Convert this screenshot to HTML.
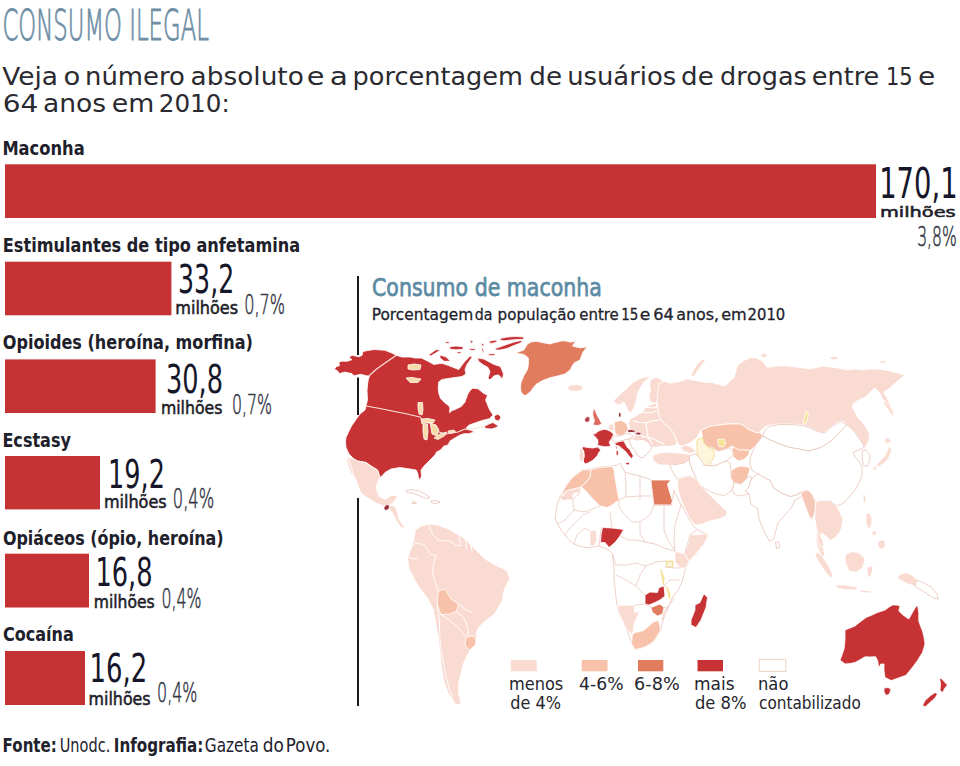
<!DOCTYPE html>
<html lang="pt">
<head>
<meta charset="utf-8">
<title>Consumo ilegal</title>
<style>
html,body{margin:0;padding:0;background:#fff;}
body{width:960px;height:766px;overflow:hidden;position:relative;}
svg{position:absolute;left:0;top:0;display:block;}
.t{font-family:"DejaVu Sans","Liberation Sans",sans-serif;}
.lbl{font-family:"DejaVu Sans","Liberation Sans",sans-serif;font-weight:bold;fill:#20202b;}
.num{font-family:"DejaVu Sans","Liberation Sans",sans-serif;fill:#16162a;font-weight:normal;}
.mil{font-family:"DejaVu Sans","Liberation Sans",sans-serif;fill:#1e1e2a;stroke:#1e1e2a;stroke-width:0.55;font-weight:normal;}
.pct{font-family:"DejaVu Sans","Liberation Sans",sans-serif;fill:#343846;stroke:#343846;stroke-width:0.6;font-weight:200;}
.bar{fill:#c53234;}
.w{fill:#fff;stroke:#eccac1;stroke-width:0.9;}
</style>
</head>
<body>
<svg width="960" height="766" viewBox="0 0 960 766">
<!-- MAP -->
<g id="map">
<g stroke-linejoin="round">
<g id="gna" stroke="#fff" stroke-width="0.8">
<polygon fill="#c73234" points="334.4,369.2 335.8,367 339.5,365.5 338.8,362.6 341,361.2 347.5,361.2 351.9,359.7 349,357.5 351.9,355.3 355.5,356.1 359.2,356.8 362.1,355.3 362.8,351.7 365,351 373.8,349.5 384.7,350.2 392,353.1 396.4,355.3 402,357 410,357 415,358 421.3,358 427.5,361 433.8,364.4 442,363.3 448.3,365.4 453.5,367.5 458.8,369.6 462,365 465,361.3 470.2,356 472.3,357 467,364.4 465,369.6 466,374 462,376.5 455,377.5 448,378.5 442,379.5 438.6,382 438.2,388 438.7,393 440.6,398.5 444.5,402.5 448.5,405.5 450,408 449.5,412.8 452,410.5 455,409.6 461.3,406.4 465,402 467.6,394.5 470,390.5 472.6,388.3 478,388.7 483.7,393.4 487.5,395.3 485.6,400 489.4,409.4 493,415 489.4,418.7 481.9,420.6 476.2,422.5 468.7,425.3 466,428 474.4,431.9 468.7,433.7 464,433.7 460,435 455.6,437.5 450,441 448,445 444,446 440.6,450 436.5,452 435,455 432,458 430,460 425,465 421,470 421.5,476 420,480 418.5,478 417.5,472.5 416,470 410,469 400,467.5 391,469 385,472.5 382,476 380,477.5 377.5,470 371,466 366,462.5 357.5,461 354,459 349,454 346,447.5 345.5,442 346,437.5 349,431 351.5,426 354,422.5 357,418 360,414 365,410 366,406 367.5,400 367,390 368,381 369.4,376 366.5,375.8 360.7,374.3 354.1,375.8 351.9,373.6 344.6,372.1 339.5,373.6 337.3,370.7"/>
<polygon fill="#c73234" points="484,426.5 490,423.5 493,422.5 498.7,426.2 495,428 491.2,429 486,428.5"/>
<polygon fill="#c73234" points="494,416 498,414 501,417 499,421 495,420"/>
<polygon fill="#c73234" points="477.5,358 483.8,359 488,361.3 494,364.4 500.4,366.5 503.5,373.8 502.5,379 498.3,374.8 494,375.8 490,380 488,378 490,371.7 488,367.5 482.7,364.4 478.5,361.3"/>
<polygon fill="#c73234" points="428.5,355 435.8,349.8 441,349.8 435.8,353 430.6,356"/>
<polygon fill="#c73234" points="440,355 446.3,357 450.4,361.3 444.2,361.3 440,358"/>
<polygon fill="#c73234" points="449.4,346.7 456,346 463,346.7 463,349.3 456,349.8 450.4,349.3"/>
<polygon fill="#c73234" points="445.2,341.5 449.4,342 449.4,343.5 445.5,343.3"/>
<polygon fill="#c73234" points="469,348.2 475.4,348.8 475,350.5 469.5,350"/>
<polygon fill="#c73234" points="481.7,348.3 483.3,348.5 484,353 482.5,352.5"/>
<polygon fill="#c73234" points="488,353.8 494,354.3 494,355.8 488,355.3"/>
<polygon fill="#c73234" points="457,352 461,351.5 461,353.5 457,353.6"/>
<polygon fill="#c73234" points="500,338.5 506,337.2 512,336.6 518,336.6 524,337 523.5,339.3 517,339.6 511,340 505,340.8 500.5,340.6"/>
<polygon fill="#c73234" points="523,340 520.5,343 514,345.5 507,348.5 500,350 495.5,350 495,348.6 501,346.5 508,344 515,341.8"/>
<polygon fill="#c73234" points="489,341.3 495,340 498,341.3 493,343.3 489.5,343.2"/>
<polygon fill="#c73234" points="470,340.8 473,340.5 472.5,343 470.3,343"/>
<polygon fill="#c73234" points="481.5,343.5 484,343.8 483.5,346 481.5,345.6"/>
<polygon fill="#c73234" points="488.5,354 495,353.5 494.5,355.5 489,355.8"/>
<polygon fill="#fff" points="476,423.5 482,421.5 489,419.5 487,423 482,424.5 478,426"/>
<polygon fill="#f7dba8" points="408,365 414,364 421,365 420,369.5 413,370 408,369"/>
<polygon fill="#f7dba8" points="406,378 412,377.5 421,379 418,382.5 410,382.5"/>
<polygon fill="#f7dba8" points="418,402.5 422.5,402.5 423,410 422,415 419,414 418,408"/>
<polygon fill="#f7dba8" points="421,419 428,418.5 435,420 433,423 426,423 422,424"/>
<polygon fill="#f7dba8" points="423,424.5 427.5,424 428,432 427,440 424,439 423,432"/>
<polygon fill="#f7dba8" points="430,423 436,425 439,430 437,436 432,434 431,428"/>
<polygon fill="#f7dba8" points="434,438 441,433.5 447,432 445,435.5 438,439.5"/>
<polygon fill="#f7dba8" points="448,431 454,430 455.5,432 449,433.5"/>
<polygon fill="#e17c5f" points="515.3,353 519.5,351.5 523.7,350.2 527.5,344 531,342 536,341.2 540,342 544.4,343 550,344 553,343 556.5,342.2 561,341 565,340.8 570.6,342.2 576.2,340.8 574,343.5 572.5,346 576,347 580,347.8 587.5,346.9 585,349.5 582.8,352.5 581.5,356 580,360 574.4,362.8 572,366 570.6,369.4 565,374 557.5,376 550,377.8 542.5,380.6 536,384.4 533,388 531.2,391 525.6,395.6 523,394.5 521,391.9 520.5,387 521,382.5 523.7,376 527.5,369.4 528.5,364 528.4,358 526,356 523.7,354.4"/>
<polygon fill="#fadbd2" points="567,387 571,385 577,384.5 583,386 582,390 576,391.5 570,391"/>
<polygon fill="#fadbd2" points="347,456.5 351,458 354,459 357.5,461 366,462.5 371,466 377.5,470 380,477.5 379,479 377,484 376,487.5 377.5,492 379,496 385,499.5 389,497 391,495.5 397.5,495.5 396,499 393.5,502.5 390.5,504.5 389,507 385,507 381,505 376,503 371,500 366,497 362,494 360,491 358,486 356,480 353,474 351,467 349,462"/>
<polygon fill="#fadbd2" points="346,458 348,459 351,466 353,474 352.5,477 350.5,472 348,465"/>
<polygon fill="#fadbd2" points="389,507 392,505 395,507 397.5,512 398,516 400,521 403,525 405,527.5 402,528 399,525 396,520 393,514 390,510"/>
<polygon fill="#9c2a35" points="384,507 387,504.5 389.5,505.5 389,509 386,510.5 384,509.5"/>
<polygon class="w" points="406,491 412,489.5 419,491 425,494 430,497.5 426,498.5 420,496 413,493 407,492.5"/>
<polygon class="w" points="431,501 436,500.5 440,502 436,503.5 432,503"/>
<polygon class="w" points="412,502 416,502 416,503.5 412,503.5"/>
</g>
<g id="gsa" stroke="#fff" stroke-width="0.8">
<polygon fill="#fadbd2" points="415.3,530.3 420.4,526.5 428,524 438.2,525.2 451,530.3 457,534 463.7,538 469,543 473.9,548.1 479,553 484,558.3 490,562 496.8,566 502,568 507,571 509.6,578.7 507,584 504.5,588.9 503,595 502,601.6 498,608 494.3,614.4 489,618 484,622 479,627 476.4,632.2 476.4,642.4 472,648 468.8,652.6 466,658 463.7,662.8 461.1,673 458.6,683.2 458.6,693.3 461.1,703.5 456,704.8 452,699 448.4,693.3 445,685 443.3,678 441.5,668 440.8,660.2 439.5,648 438.2,637.3 436.5,628 435.7,622 433.1,609.3 428,599 420.4,588.9 414,578.7 408.9,568.5 407.6,558.3 410.2,550.7 412,545 414,540.5 414.5,535"/>
<polygon fill="#f8c2aa" points="438.2,591.4 444.6,588.9 448,594 451,599 458.6,604.2 456,611.8 448.4,614.4 440.8,614.4 437,604.2"/>
<polygon fill="#f8c2aa" points="466.2,637.3 470,636.5 473.9,636 476,640 475.2,645 470,650 465,646.2 465.5,641"/>
</g>
<g id="geu" stroke="#fff" stroke-width="0.8">
<polygon fill="#fadbd2" points="613.5,401 616,398 620,394.5 625,390 629,386 633,382.5 638,379.5 643,377.5 648,376.8 650,377.3 647,379.5 644,382 641.5,386 639,390 637,395 636.5,400 635,405 633.5,409 631,412.5 628,411 626,406 624,402 621,404 617,404.5"/>
<polygon fill="#fadbd2" points="651,379 656,377.5 661,379 664,383 661.5,389 660,395 659,401 654,403.5 650,401.5 649,396 650.5,390 649.5,384"/>
<polygon fill="#fadbd2" points="630,419 636,416 642,412 646,407 651,404.5 656,403 658,410 660,419 665,424 670,428 674,434 677,441 676,445 670,446.5 664,446 658,447 651,447 646,445 641,442 638,438 633,433 629.5,428 628.5,423"/>
<polygon fill="#dc6a60" points="593.9,408 595.5,411 596.8,414.6 599.7,419.7 601.9,424 599,425.2 596.8,425.5 592.8,424.8 594.6,420.4 593.2,417 592.8,414.6 593,411"/>
<polygon fill="#b8404a" points="585,418 588,416.3 590,418 589.5,421.5 586.5,422.5 584.5,420.5"/>
<polygon fill="#c73234" points="596,433.6 596.8,432 600,430.5 604,429.2 607.5,430 610.7,431.4 613.6,434.3 611.4,438.7 609.2,442.3 610.7,446 607,446.8 604,446.7 600.5,446 597.5,445.3 598,442 597.5,439.4 595,436.5 592.5,434"/>
<polygon fill="#c73234" points="582.5,446.5 587.5,447.5 593,448 597.5,447 600.8,450 598.5,453 597.5,455.5 595,458 592.5,460.5 588,463 585,464 583.2,461 584.2,456 583.8,451 582,448.8"/>
<polygon fill="#fadbd2" points="579.5,448.5 582.4,448.8 583.6,452 584,457 583,461 580,461.3 579,456 579.6,451.5"/>
<polygon fill="#c73234" points="614.3,443.8 618.7,441.6 623.8,440.9 625.3,443.8 627,447 630,450 633.4,456 631.5,458.7 629,456 626,452 622,448.5 619.4,446.2 616.5,445.5"/>
<polygon fill="#c73234" points="625.5,462.5 630,462.3 628.8,465 626,464.6"/>
<polygon fill="#c73234" points="616,450.8 618.2,450.5 618.5,455 616.3,455.5"/>
<polygon fill="#c73234" points="615.6,446.2 617,446.2 617,449 615.6,449"/>
<polygon fill="#f8c2aa" points="614.3,421.9 620.9,420.4 626.7,423.4 628.2,429.2 625.3,433.6 620.9,435.8 615.8,434.3 614.3,429.2"/>
<polygon fill="#fadbd2" points="608.5,425 613.5,423.5 614.2,429 612.5,431.5 608.5,429"/>
<polygon fill="#9c2a35" points="618.5,412.5 621,413 621,417 618.5,417"/>
<polygon fill="#9c2a35" points="627.4,430 631,429.5 635.5,430.5 635,432.3 630,432.5 627.5,432"/>
<polygon fill="#9c2a35" points="635.5,432.6 639,432 641.5,433.5 640,435 636,435"/>
<polygon fill="#fadbd2" points="633,435.5 638,435.2 643.5,436 643,439.4 637,440 633.5,438.5"/>
<polygon class="w" points="629,439 633,438.5 637,440 643,439.4 648,442 652,447 650,451 646,455 642,458 638,456 635,451 631,446"/>
<polygon class="w" points="611.4,438.7 615,436 620.9,435.8 625.3,433.6 630,434 633,436 629,439 624,440 618.7,441.6 614.3,442.5"/>
</g>
<g id="gaf" stroke="#fff" stroke-width="0.8">
<polygon class="w" points="572.5,477.5 577,474 582.5,470 591,469 600,467 612.5,466 617,465 620,463 621.5,466 625,472 631,474 640,476 646,478 651,480 653,498 654,505 671,505 672.5,501 674,490 676,495 681,505 687,515 691,523 697,529.5 703,533 708,534 706,540 703.5,544 698,551 694,556 689,561 686,568 684,574 682,582 678,590 672,598 668,608 664,617 660.6,630 656,638 653,642 645.6,646.5 640,648.5 635.3,649.4 631.5,643.7 630,638 627,630 623,621 618.4,612 617,605 616,597 615,588 614,578 614,568 613,560 612.5,554 609,550 604,548 599,546 593,547 586,547.5 579,546 574,544 569,540 565,535 561,530 557.5,524 555,519 556,512 557,505 560,497 564,490 568,483"/>
<polygon fill="#f8c2aa" points="572.5,477.5 577,474 582.5,470 586,470 591,470 590,477.5 585,483 580,487.5 574,489 569,490 565,492 562.5,496 562.5,492 566,486"/>
<polygon fill="#fadbd2" points="562.5,496 565,492 569,490 574,489 580,487.5 579,492 573,494 572.5,499 563,500.5 560,499"/>
<polygon fill="#f8c2aa" points="591,469.5 600,467.5 612.5,466.5 614,470 615,477.5 617,489 619,500 612,505 607.5,507.5 600,506 592,498 585,490 581,487 585,483.5 590,477.5"/>
<polygon fill="#c73234" points="602.5,527.5 612,528 623.8,529.4 620,536 615,542.5 609,547.5 605,542.5 600.6,542.5 601,535"/>
<polygon fill="#c73234" points="645,595 650,592 657.5,592.5 659,587.5 664,586 665,596 660,600 655,602.5 649,605 645,604"/>
<polygon fill="#e17c5f" points="651,607.5 656,605.5 660,604 664,607.5 662.5,614 657.5,616 652.5,612.5"/>
<polygon fill="#fadbd2" points="617.5,605.3 634.4,605.3 634.4,612.5 639.5,611.5 634.4,623 632.5,634.4 627.8,630.6 623,621.2 618.4,612"/>
<polygon fill="#f8c2aa" points="635.3,632.5 643.7,630.6 653,622.2 658.7,620.3 660.6,630 656,638 653,642 645.6,646.5 640,648.5 635.3,649.4 631.5,643.7 632.5,634.4"/>
<polygon fill="#c73234" points="703.8,593.8 707.5,597.5 706,607.5 701,620 696,627.5 691,625 691,620 695,610 695,605 700,602.5"/>
<polygon fill="#fadbd2" points="690.5,535 697,534.5 708,534 706,540 703.5,544 698,551 694,556 689,561 684.6,554 688,545"/>
<polygon fill="#fadbd2" points="675,551 684.6,554 689,561 686,568 680,568 675,562"/>
<polygon fill="#fadbd2" points="590,531 596,530 597,540 594,546 590,546"/>
<polygon fill="#fbf3d6" stroke="#efd680" stroke-width="1" points="666.5,561.5 672.5,561 673,566.5 669,567.5 666.5,566"/>
<polygon fill="#f5e497" points="659.5,569 661.5,569 665,578 664.5,585 662.5,585 661,576"/>
<polygon fill="#f5e497" points="665.5,586 667.5,586 671,594 670.5,599 668.5,599 667,593"/>
</g>
<g id="gas" stroke="#fff" stroke-width="0.8">
<polygon fill="#fadbd2" points="659,384 665,381 669,383 675,382.5 681,381 687.5,379 694,380.5 700,381.5 706,382.5 712.5,382.5 719,384.5 725,386 730,381 734,377.5 736,371 737,366 743,361 750,357.5 756,358 762.5,361 767.5,367.5 775,366 787.5,366 800,367.5 810,369 822.5,366 835,367.5 847.5,370 855,369 862.5,370 870,369 878,369 885,370 890,371 895,372.5 900,373.5 905,375 902,377.5 897.5,381 894,384 891,387.5 888,389.5 885,391 884,394 887,398 890,404 893,410 895,415 892,413.5 889,409 885,403 882,398 880,393 875,388 871,391 869,393.5 865,397.5 861,399 857.5,400.5 853,404 852.5,407.5 855,412 857.5,417.5 862,422 866,427 869,433 869.5,438 867.5,444 864.5,447 862,443 860,440 857.5,436 855,432.5 851,428 847.5,425 844,422 840,421 836,423 832.5,425.5 828,429 824,432.5 819,431.5 815,430 809,427 802.5,425 796,424.3 790,424 780,424 770,425 765,426.5 762.5,429 760,432 757.5,433 753,431.5 750,430 747.5,429 744,425.5 740,424 733,424 727.5,424 720,425 711,426 705,428.5 701,430 699,434 697,437 694,440 690,443 686,444.5 681,446 678,444 677,441 674,434 670,428 665,424 660,419 658,410 657,401 657.5,395 658,389"/>
<polygon fill="#fadbd2" points="691,376 694,369 698,363 703,359 706,359.5 701,366 697,372 693.5,377"/>
<polygon fill="#fadbd2" points="760,355 765,353 768.5,356 763,358"/>
<polygon fill="#fadbd2" points="829,357.5 836,356 838.5,359 832,360"/>
<polygon fill="#fadbd2" points="880,361 885,360.5 886,363 880.5,363.5"/>
<polygon fill="#fadbd2" points="883,400 886,401.5 890,407 894,414 893,416.5 888.5,410.5 884.5,404.5"/>
<polygon fill="#fadbd2" points="884,439.5 888,437.5 891.5,441 889,443.5 885.5,443"/>
<polygon fill="#fadbd2" points="889,446 891.5,449 890.5,454 888,459 884,463 879,466.5 876,466 878,463 882,459 885.5,455 887.5,450"/>
<polygon fill="#fadbd2" points="873.5,466 876.5,466.5 876,470.5 873,469.5"/>
<polygon fill="#f8c2aa" points="701,430 705,428.5 711,426 720,425 727.5,424 733,424 740,424 744,425.5 747.5,429 750,430 753,431.5 757.5,433 760,432 762.5,436 759,441 755,446 750,450.5 745,450 739,450 735,448 732.5,446 729,447.5 726,449 721,450.5 717.5,451 712.5,447.5 708,446.5 705,446 703,442 702.5,437.5"/>
<polygon class="w" points="703,442 705,446 708,446.5 712.5,447.5 717.5,451 721,450.5 726,449 729,447.5 732,451 733,455 730,458 726,461 722,462.5 717,465 712,466 706,465"/>
<polygon fill="#fdf5dc" stroke="#f2dc8c" stroke-width="0.9" points="697,440 702.5,437.5 704,443 708,447 713,449 714.5,455 712,461 708,466 702,465.5 699,460 697,452"/>
<polygon fill="#f5e497" points="717.5,439.5 724,439 725.8,443 723.5,447 719,446.5"/>
<polygon fill="#f8c2aa" points="732.5,446 735,448 739,450 745,450 750,450.5 748.5,455 744,459.5 738,461 733.5,457 732,451"/>
<polygon fill="#f8c2aa" points="731,471 736,467.5 741,466 750,467.5 749,472 747.5,477.5 744,481 741,484 734,482.5 731,477.5"/>
<polygon fill="#fadbd2" points="652.5,455.5 660,452.8 670,452.3 681,453.2 690,454.5 693,458.5 690,463.5 681,465.5 669,465.3 659,464.8 653.5,461"/>
<polygon fill="#fadbd2" points="681,446.5 686,445 692,447.5 696,451.5 690,453.5 683,451"/>
<polygon class="w" points="689.5,455.5 696,454 700,459 704,465 712,466 717,465 722,462.5 726,461 730,463 731,471 731,477.5 734,482.5 733,488 730,492 724,495.5 716,494 708,490.5 701,486 696.5,479 692,470 689.5,463"/>
<polygon class="w" points="734,482.5 741,484 745,480 750,476 752,478 750,482 749,487 745,491 748.8,493.6 741,496 735,494.5 732,490 733,488"/>
<polygon class="w" points="670,464 676,464.5 684,463 689,459.5 692,470 696.5,479 690,476 684,477 677.5,479 674,474 671,469"/>
<polygon fill="#fadbd2" points="677.5,479.5 684,477 690,476 696.5,479 701,486 706,491 712,497 717,502 722,507 727,511 726,516 719,519 710,521 702,524 696,525 692,522 689,517 685,509 681,500 678,490"/>
<polygon fill="#e17c5f" points="651,480 658,480 665,480 671,480 667.5,484 669,490 672.5,501 671,505 662,505 654,505 653,498 652.5,492.5 651.5,486"/>
<polygon class="w" points="762.5,436 765,430 770,426 780,424.5 790,424.5 802.5,425.5 809,427.5 815,430.5 824,433 832.5,426 840,421.5 847,425 843,429 838,434 831,441 821,447.5 809,451 799,449 790,447.5 780,444 770,440"/>
<polygon class="w" points="755,446 759,441 762.5,436 770,440 780,444 790,447.5 799,449 809,451 821,447.5 831,441 838,434 843,429 847,425 851,428 855,432.5 858,437 861,441 864.5,447 859,450 853,452 855,457 859,461 862,467 862,475 859,483 855,490 850,496 845,502 840,505 836,505 830,500.5 822,500.5 815.7,502 812,494 808,490 802,491.5 796,495 790.6,496.7 782.2,493.6 773.9,488.4 769.7,480 765,478 758,474 752,470 750,465 750,458"/>
<polygon class="w" points="862.5,450.5 866,450 870,455 869.5,461 867,466.5 863.5,465 862,458"/>
<polygon class="w" points="752,478 758,474 765,478 769.7,480 773.9,488.4 782.2,493.6 790.6,496.7 796,495 801,492.5 802,496 797,499 794.8,500 792.7,506 785.4,514.5 778,522.8 776,530 773.9,538.5 769.7,541.6 764.5,532.2 759.3,519.7 757.2,508.2 750.9,504 748.8,493.6 745,491 749,487 750,482"/>
<polygon class="w" points="775.5,542 778.5,542 780,547 776.5,548.5"/>
<polygon fill="#f6c8b8" points="802,491.5 808,490 812,494 815.7,502 815,512 812,519.7 809,516 806,508 803,500 801,495"/>
<polygon fill="#fadbd2" points="815.7,502 822,500.5 830,500.5 836,505 840,512 843,520 841,530 836,537 830,540.5 826,536 822,533 820,540 823,548 825,555 822,557 818,548 816,540 817,530 815,520 815,512"/>
<polygon fill="#f5e497" points="806,411.5 808.3,412.5 807.8,418 805.5,424 803,423.5 804.3,418"/>
<polygon fill="#fadbd2" points="816.5,530 819.5,534 823,541 824,546 820.5,547 817.5,539"/>
<polygon fill="#fadbd2" points="815,553 818,552.5 822,556 828,565 833,575 831,578.5 826,573 820,564 816,557"/>
<polygon fill="#fadbd2" points="845,555 852,551.5 860,553.5 865,559 863,567 856,572.5 849,571 845.5,563"/>
<polygon fill="#fadbd2" points="867,567.5 873,565.5 872.5,571 870,578 867.5,575"/>
<polygon fill="#fadbd2" points="836,585 845,585 857,587 856.5,590 845,589.5 836.5,588"/>
<polygon fill="#fadbd2" points="860,590 868,590.5 874,592 868,593 860,592"/>
<polygon fill="#fadbd2" points="899,575 906,572.5 912,575 917,580 915,586 908,584 902,581 897.5,578"/>
<polygon class="w" points="917,580 924,583 931,587 937,594 938,599 933,598 926,593 919,589 915,586"/>
<polygon fill="#fadbd2" points="866,514 870,513 872,519 871,527 868,529 866,522"/>
<polygon fill="#fadbd2" points="872,531 876,531 876.5,535 872.5,535.5"/>
<polygon fill="#fadbd2" points="878,541 884,540 886,545 882,549.5 878,547"/>
<polygon fill="#fadbd2" points="863,495 865.5,495 866,502 863.5,503"/>
</g>
<g id="goc" stroke="#fff" stroke-width="0.8">
<polygon fill="#c73234" points="845,630 850,628 855,626 860,622 866,617.5 872,615 877.5,612.5 885,610 889,607 892.5,605 896,605 900,605.6 898.8,611 903,615 908.8,619 910.5,616 912.5,612.5 915,608 917.5,605 918.8,613 918.8,621 920.5,626 922.5,631 924,637 925,644 922.5,652.5 917.3,660.8 912,668 905.8,675.4 899.6,677.5 891.3,680.6 885,677.5 884,671 884,664 880.8,664 878.8,668 877.7,660.8 875.6,656.7 870,657 865.2,656.7 860,659.8 855,662.5 850,663.5 845,664 840,660 842,655 844,649 845,640"/>
<polygon fill="#c73234" points="884,688 888,687.5 891,689 889.5,694 886,695.5 884,692"/>
<polygon fill="#c73234" points="939.5,678 942,679 945,682.5 947.5,685 945,688 942.5,692.5 940,690.5 940.5,684"/>
<polygon fill="#c73234" points="935,692.5 937.5,694 935,698 930.5,702 925.5,706.7 922.5,705.5 925,700.5 930,696"/>
</g>
<g fill="none" stroke="#fbe3dc" stroke-width="1.2" stroke-linejoin="round" stroke-linecap="round">
<polyline points="396.4,355.3 385,363 376,369.5 369.4,375.5"/>
<polyline points="366,406 380,408.5 392,411 405,413.5 420,417 423,421"/>
<polyline points="439,432 445,434 450,433.5 458,432 465,429 470,430 476,428 484,427"/>
</g>
<g fill="none" stroke="#fff" stroke-width="0.9" stroke-linejoin="round" stroke-linecap="round">
<polyline points="428,524.5 431,530 433,535 438,540"/>
<polyline points="438,540 444,541 450,541 456,545 460,546"/>
<polyline points="459,537 461,546"/>
<polyline points="465.5,540.5 466.5,549"/>
<polyline points="471,545 472,551"/>
<polyline points="410,550 415,543 421,544 425,546 430,554 436,556"/>
<polyline points="408,557 413,559 418,558"/>
<polyline points="436,556 433,566 433,575 436,585 438.2,591.4"/>
<polyline points="437,604.2 438.5,614 439.5,625 440,640 442,655 445,672 449,688 453,698"/>
<polyline points="440.8,614.4 446,618 452,622 459,628 465,636"/>
<polyline points="456,611.8 462,616 466,622 468,630 468,636"/>
<polyline points="458.6,604.2 466,610 472,612"/>
</g>
<g fill="none" stroke="#fff" stroke-width="1.1" stroke-linejoin="round" stroke-linecap="round">
<polyline points="641,412 647,413 652,412.5 657,411"/>
<polyline points="633,421 640,422.5 646,423 652,421 659,420"/>
<polyline points="646,423 647,430 648,437 652,444"/>
<polyline points="642.5,436.5 648,437 656,440 664,444"/>
<polyline points="646,407 652,408 657,407"/>
</g>
<g fill="none" stroke="#eccbc3" stroke-width="0.85" stroke-linejoin="round" stroke-linecap="round">
<polyline points="560,497 573,499 579,494 580,488"/>
<polyline points="572.5,499 574,510 584,512 590,510 600,506"/>
<polyline points="619,500 625,497 640,496 651,496"/>
<polyline points="625,472 626,485 626,497"/>
<polyline points="640,476 640,490 640,500"/>
<polyline points="654,505 650,515 640,522 632,522 626,516 619,507 619,500"/>
<polyline points="654,505 665,505 672,505"/>
<polyline points="620,536 628,540 636,540 645,542 655,544 664,548 674,551"/>
<polyline points="640,522 640,534 645,542"/>
<polyline points="664,505 664,530 668,540 675,551"/>
<polyline points="612.5,554 616,565 626,565 636,563 646,566 656,562 666,561"/>
<polyline points="616,575 626,580 636,586 645,595"/>
<polyline points="636,586 640,575 646,566"/>
<polyline points="665,567 675,568 680,568"/>
<polyline points="664,586 670,580 679,580"/>
<polyline points="634.4,605.3 645,604 651,607.5"/>
<polyline points="664,607.5 668,608"/>
<polyline points="674,598 670,604 665,610 662,620"/>
<polyline points="574,544 577,535 585,528 590,531"/>
<polyline points="565,535 570,528 576,522 583,515 590,512"/>
<polyline points="557.5,524 565,520 574,510"/>
<polyline points="599,546 600,537 601,530 602.5,527.5"/>
<polyline points="610,512 611,520 612,528"/>
<polyline points="697,529.5 690,535 684.6,554"/>
<polyline points="681,505 678,515 675,525 674,540 675,551"/>
</g>
</g>
<rect x="510.8" y="660" width="25.9" height="11.3" fill="#fadbd2"/>
<rect x="581.7" y="660" width="25.8" height="11.3" fill="#f8c2aa"/>
<rect x="638" y="660" width="25.3" height="11.3" fill="#e17c5f"/>
<rect x="697.5" y="660" width="25.5" height="11.3" fill="#c73234"/>
<rect x="759.3" y="659.3" width="26.5" height="12.2" fill="#fff" stroke="#f0d2c8" stroke-width="1"/>
</g><!--/map-->

<!-- vertical rule -->
<g fill="#1a1a1a">
<rect x="357" y="276" width="2" height="79"/>
<rect x="357" y="377.5" width="2" height="37.5"/>
<rect x="357" y="498" width="2" height="208"/>
</g>

<!-- HEADINGS -->
<text id="title" class="t" x="2.40" y="39.50" font-size="42.00" font-weight="200" fill="#6e8ea5" stroke="#6e8ea5" stroke-width="0.9" textLength="206.50" lengthAdjust="spacingAndGlyphs">CONSUMO ILEGAL</text>
<text id="sub1" class="t" y="84.6" font-size="24.8" fill="#2a2a30"><tspan id="sub1w0" x="2.20" textLength="55.80" lengthAdjust="spacingAndGlyphs">Veja</tspan> <tspan id="sub1w1" x="63.40" textLength="16.80" lengthAdjust="spacingAndGlyphs">o</tspan> <tspan id="sub1w2" x="85.00" textLength="99.80" lengthAdjust="spacingAndGlyphs">número</tspan> <tspan id="sub1w3" x="190.60" textLength="113.20" lengthAdjust="spacingAndGlyphs">absoluto</tspan> <tspan id="sub1w4" x="306.80" textLength="17.70" lengthAdjust="spacingAndGlyphs">e</tspan> <tspan id="sub1w5" x="329.80" textLength="18.20" lengthAdjust="spacingAndGlyphs">a</tspan> <tspan id="sub1w6" x="352.60" textLength="170.40" lengthAdjust="spacingAndGlyphs">porcentagem</tspan> <tspan id="sub1w7" x="529.25" textLength="32.75" lengthAdjust="spacingAndGlyphs">de</tspan> <tspan id="sub1w8" x="567.20" textLength="109.00" lengthAdjust="spacingAndGlyphs">usuários</tspan> <tspan id="sub1w9" x="681.10" textLength="32.60" lengthAdjust="spacingAndGlyphs">de</tspan> <tspan id="sub1w10" x="720.05" textLength="86.75" lengthAdjust="spacingAndGlyphs">drogas</tspan> <tspan id="sub1w11" x="811.75" textLength="67.55" lengthAdjust="spacingAndGlyphs">entre</tspan> <tspan id="sub1w12" x="885.95" textLength="26.65" lengthAdjust="spacingAndGlyphs">15</tspan> <tspan id="sub1w13" x="918.00" textLength="17.30" lengthAdjust="spacingAndGlyphs">e</tspan></text>
<text id="sub2" class="t" y="112.3" font-size="24.8" fill="#2a2a30"><tspan id="sub2w0" x="2.75" textLength="35.50" lengthAdjust="spacingAndGlyphs">64</tspan> <tspan id="sub2w1" x="43.00" textLength="63.20" lengthAdjust="spacingAndGlyphs">anos</tspan> <tspan id="sub2w2" x="111.75" textLength="42.50" lengthAdjust="spacingAndGlyphs">em</tspan> <tspan id="sub2w3" x="158.80" textLength="70.90" lengthAdjust="spacingAndGlyphs">2010:</tspan></text>

<!-- BARS -->
<text id="l1" class="lbl" x="2.40" y="154.60" font-size="19.40" textLength="82.30" lengthAdjust="spacingAndGlyphs">Maconha</text>
<rect class="bar" x="5" y="164.3" width="871" height="53.7"/>
<text id="n1" class="num" x="879.20" y="197.60" font-size="42.60" textLength="78.40" lengthAdjust="spacingAndGlyphs">170,1</text>
<text id="m1" class="mil" x="880.00" y="217.00" font-size="14.00" textLength="75.70" lengthAdjust="spacingAndGlyphs">milhões</text>
<text id="p1" class="pct" x="917.20" y="245.80" font-size="27.40" textLength="39.50" lengthAdjust="spacingAndGlyphs">3,8%</text>

<text id="l2" class="lbl" x="2.80" y="252.00" font-size="19.40" textLength="297.35" lengthAdjust="spacingAndGlyphs">Estimulantes de tipo anfetamina</text>
<rect class="bar" x="5" y="261.7" width="166.4" height="53.6"/>
<text id="n2" class="num" x="178.10" y="293.00" font-size="39.40" textLength="56.10" lengthAdjust="spacingAndGlyphs">33,2</text>
<text id="m2" class="mil" x="175.30" y="314.25" font-size="17.00" textLength="62.80" lengthAdjust="spacingAndGlyphs">milhões</text>
<text id="p2" class="pct" x="244.20" y="314.25" font-size="27.40" textLength="40.80" lengthAdjust="spacingAndGlyphs">0,7%</text>

<text id="l3" class="lbl" x="2.75" y="349.10" font-size="19.40" textLength="250.10" lengthAdjust="spacingAndGlyphs">Opioides (heroína, morfina)</text>
<rect class="bar" x="5" y="359.4" width="150.6" height="53.6"/>
<text id="n3" class="num" x="166.00" y="393.10" font-size="39.40" textLength="57.00" lengthAdjust="spacingAndGlyphs">30,8</text>
<text id="m3" class="mil" x="160.90" y="414.40" font-size="17.00" textLength="61.50" lengthAdjust="spacingAndGlyphs">milhões</text>
<text id="p3" class="pct" x="232.00" y="414.40" font-size="27.40" textLength="40.00" lengthAdjust="spacingAndGlyphs">0,7%</text>

<text id="l4" class="lbl" x="2.40" y="446.75" font-size="19.40" textLength="68.60" lengthAdjust="spacingAndGlyphs">Ecstasy</text>
<rect class="bar" x="5" y="456" width="95" height="53.4"/>
<text id="n4" class="num" x="108.00" y="487.60" font-size="39.40" textLength="56.90" lengthAdjust="spacingAndGlyphs">19,2</text>
<text id="m4" class="mil" x="103.90" y="508.25" font-size="17.00" textLength="62.70" lengthAdjust="spacingAndGlyphs">milhões</text>
<text id="p4" class="pct" x="172.80" y="508.25" font-size="27.40" textLength="41.30" lengthAdjust="spacingAndGlyphs">0,4%</text>

<text id="l5" class="lbl" x="2.90" y="545.30" font-size="19.40" textLength="220.70" lengthAdjust="spacingAndGlyphs">Opiáceos (ópio, heroína)</text>
<rect class="bar" x="5" y="553.7" width="84" height="53.8"/>
<text id="n5" class="num" x="95.40" y="586.25" font-size="39.40" textLength="57.20" lengthAdjust="spacingAndGlyphs">16,8</text>
<text id="m5" class="mil" x="93.80" y="607.50" font-size="17.00" textLength="60.90" lengthAdjust="spacingAndGlyphs">milhões</text>
<text id="p5" class="pct" x="161.40" y="607.50" font-size="27.40" textLength="40.00" lengthAdjust="spacingAndGlyphs">0,4%</text>

<text id="l6" class="lbl" x="2.90" y="641.10" font-size="19.40" textLength="70.90" lengthAdjust="spacingAndGlyphs">Cocaína</text>
<rect class="bar" x="5" y="651" width="80" height="54"/>
<text id="n6" class="num" x="89.60" y="682.25" font-size="39.40" textLength="57.70" lengthAdjust="spacingAndGlyphs">16,2</text>
<text id="m6" class="mil" x="88.60" y="704.75" font-size="17.00" textLength="62.00" lengthAdjust="spacingAndGlyphs">milhões</text>
<text id="p6" class="pct" x="157.10" y="701.60" font-size="27.40" textLength="40.30" lengthAdjust="spacingAndGlyphs">0,4%</text>

<!-- MAP HEADINGS -->
<text id="mh" class="t" x="372.00" y="296.00" font-size="24.00" font-weight="normal" fill="#5d8ba4" stroke="#5d8ba4" stroke-width="0.75" textLength="229.80" lengthAdjust="spacingAndGlyphs">Consumo de maconha</text>
<text id="ms" class="t" y="320.3" font-size="16.5" fill="#22222c" stroke="#22222c" stroke-width="0.3"><tspan id="msw0" x="371.70" textLength="101.50" lengthAdjust="spacingAndGlyphs">Porcentagem</tspan> <tspan id="msw1" x="474.70" textLength="17.70" lengthAdjust="spacingAndGlyphs">da</tspan> <tspan id="msw2" x="497.60" textLength="78.20" lengthAdjust="spacingAndGlyphs">população</tspan> <tspan id="msw3" x="579.20" textLength="39.60" lengthAdjust="spacingAndGlyphs">entre</tspan> <tspan id="msw4" x="621.20" textLength="17.10" lengthAdjust="spacingAndGlyphs">15</tspan> <tspan id="msw5" x="639.70" textLength="10.60" lengthAdjust="spacingAndGlyphs">e</tspan> <tspan id="msw6" x="653.20" textLength="20.60" lengthAdjust="spacingAndGlyphs">64</tspan> <tspan id="msw7" x="676.20" textLength="43.00" lengthAdjust="spacingAndGlyphs">anos,</tspan> <tspan id="msw8" x="721.20" textLength="25.60" lengthAdjust="spacingAndGlyphs">em</tspan> <tspan id="msw9" x="747.60" textLength="37.60" lengthAdjust="spacingAndGlyphs">2010</tspan></text>


<!-- LEGEND TEXT -->
<g class="leg" font-family="DejaVu Sans, Liberation Sans, sans-serif" font-size="18" fill="#25252d">
<text id="lg1" x="509.00" y="689.75" font-size="18.00" textLength="54.30" lengthAdjust="spacingAndGlyphs">menos</text>
<text id="lg2" x="510.25" y="708.75" font-size="18.00" textLength="50.75" lengthAdjust="spacingAndGlyphs">de 4%</text>
<text id="lg3" x="579.00" y="689.75" font-size="18.00" textLength="44.50" lengthAdjust="spacingAndGlyphs">4-6%</text>
<text id="lg4" x="634.10" y="689.50" font-size="18.00" textLength="45.65" lengthAdjust="spacingAndGlyphs">6-8%</text>
<text id="lg5" x="694.00" y="689.50" font-size="18.00" textLength="40.50" lengthAdjust="spacingAndGlyphs">mais</text>
<text id="lg6" x="695.00" y="709.25" font-size="18.00" textLength="51.50" lengthAdjust="spacingAndGlyphs">de 8%</text>
<text id="lg7" x="758.00" y="689.50" font-size="18.00" textLength="30.40" lengthAdjust="spacingAndGlyphs">não</text>
<text id="lg8" x="759.00" y="709.25" font-size="18.00" textLength="101.75" lengthAdjust="spacingAndGlyphs">contabilizado</text>
</g>

<!-- FOOTER -->
<text id="foot" class="t" y="751.9" font-size="19.5" fill="#22222c"><tspan id="footw0" x="2.60" textLength="54.20" lengthAdjust="spacingAndGlyphs" font-weight="bold">Fonte:</tspan> <tspan id="footw1" x="59.70" textLength="50.60" lengthAdjust="spacingAndGlyphs">Unodc.</tspan> <tspan id="footw2" x="113.80" textLength="89.50" lengthAdjust="spacingAndGlyphs" font-weight="bold">Infografia:</tspan> <tspan id="footw3" x="204.80" textLength="54.00" lengthAdjust="spacingAndGlyphs">Gazeta</tspan> <tspan id="footw4" x="262.70" textLength="21.10" lengthAdjust="spacingAndGlyphs">do</tspan> <tspan id="footw5" x="285.80" textLength="44.60" lengthAdjust="spacingAndGlyphs">Povo.</tspan></text>
</svg>
</body>
</html>
